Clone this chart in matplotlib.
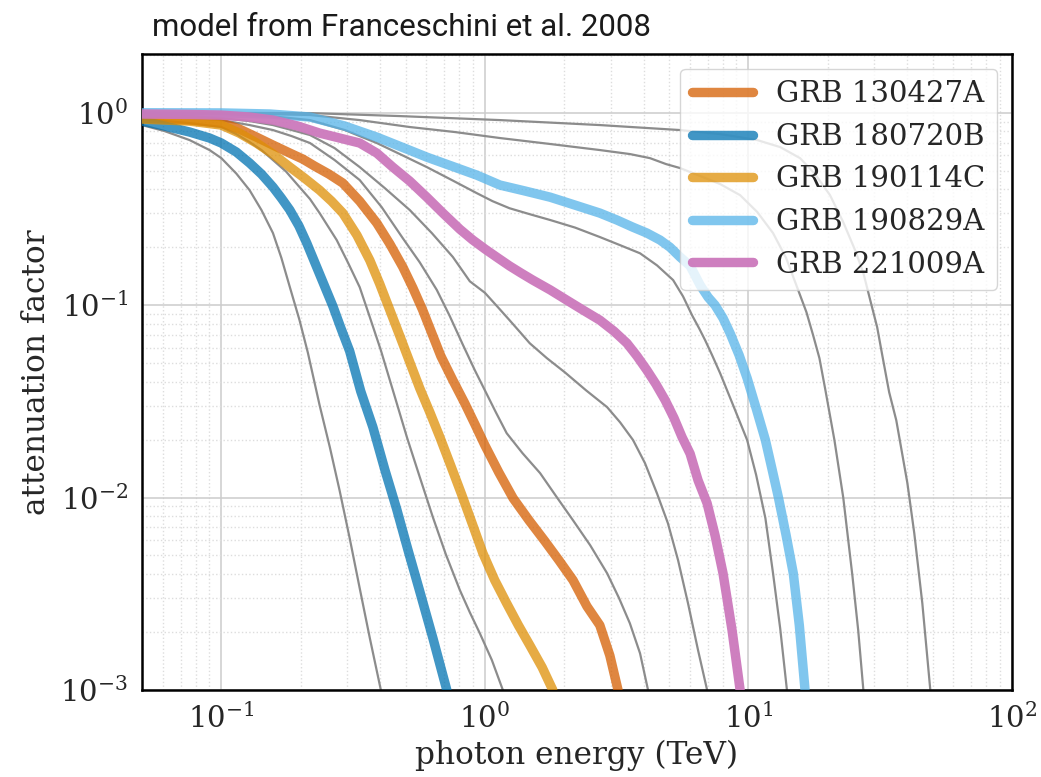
import numpy as np
import matplotlib
matplotlib.use("Agg")
import matplotlib.pyplot as plt

plt.rcParams.update({
    "font.family": "DejaVu Serif",
    "mathtext.fontset": "dejavuserif",
    "text.color": "#262626",
    "axes.labelcolor": "#262626",
    "xtick.color": "#262626",
    "ytick.color": "#262626",
})

# ---- GRB curves (photon energy in TeV, attenuation factor)
GRB_NAMES = ["GRB 130427A", "GRB 180720B", "GRB 190114C", "GRB 190829A", "GRB 221009A"]
GRB_COLORS = ["#D55E00", "#0173B2", "#DE8F05", "#56B4E9", "#CC78BC"]
GRB_ALPHA = [0.75, 0.75, 0.75, 0.75, 0.95]

e_130427A = [0.05, 0.0758, 0.100, 0.117, 0.136, 0.157, 0.182, 0.204, 0.226, 0.256,
             0.289, 0.335, 0.389, 0.436, 0.488, 0.533, 0.581, 0.629, 0.681, 0.756,
             0.839, 0.916, 1.0, 1.13, 1.28, 1.47, 1.69, 1.91, 2.16, 2.44, 2.73, 2.98, 3.20]
a_130427A = [0.938, 0.916, 0.884, 0.823, 0.747, 0.679, 0.617, 0.574, 0.528, 0.480,
             0.431, 0.347, 0.267, 0.208, 0.158, 0.123, 0.0942, 0.0715, 0.0543, 0.0407,
             0.0309, 0.0241, 0.0187, 0.0135, 0.00992, 0.00762, 0.00593, 0.00472,
             0.00372, 0.00272, 0.00217, 0.00151, 0.001]

e_180720B = [0.05, 0.0609, 0.0758, 0.0902, 0.100, 0.114, 0.128, 0.142, 0.157, 0.169,
             0.182, 0.197, 0.211, 0.236, 0.265, 0.284, 0.307, 0.338, 0.376, 0.417,
             0.463, 0.510, 0.566, 0.635, 0.717]
a_180720B = [0.905, 0.853, 0.794, 0.739, 0.696, 0.625, 0.548, 0.480, 0.411, 0.360,
             0.312, 0.258, 0.210, 0.145, 0.0988, 0.0762, 0.0576, 0.0357, 0.0232, 0.0140,
             0.00869, 0.00538, 0.00326, 0.00186, 0.001]

e_190114C = [0.05, 0.0758, 0.100, 0.117, 0.136, 0.157, 0.182, 0.207, 0.236, 0.262,
             0.289, 0.327, 0.366, 0.399, 0.436, 0.476, 0.519, 0.566, 0.618, 0.675,
             0.743, 0.818, 0.900, 0.983, 1.09, 1.21, 1.34, 1.48, 1.65, 1.81]
a_190114C = [0.927, 0.905, 0.863, 0.784, 0.696, 0.610, 0.522, 0.457, 0.396, 0.347,
             0.301, 0.231, 0.171, 0.129, 0.0942, 0.0690, 0.0505, 0.0370, 0.0278, 0.0206,
             0.0146, 0.0103, 0.00718, 0.00513, 0.00372, 0.00282, 0.00217, 0.00171,
             0.00131, 0.001]

e_190829A = [0.05, 0.100, 0.153, 0.217, 0.294, 0.389, 0.484, 0.602, 0.749, 0.932,
             1.14, 1.42, 1.77, 2.20, 2.73, 3.17, 3.65, 4.12, 4.62, 5.04, 5.50, 6.01,
             6.56, 7.03, 7.47, 8.01, 8.52, 9.22, 9.89, 10.7, 11.6, 12.3, 13.0, 13.9,
             14.8, 15.6, 16.4]
a_190829A = [1.0, 0.998, 0.985, 0.950, 0.853, 0.747, 0.663, 0.588, 0.528, 0.474,
             0.421, 0.392, 0.364, 0.331, 0.301, 0.277, 0.254, 0.237, 0.218, 0.200, 0.178,
             0.160, 0.127, 0.110, 0.100, 0.0856, 0.0715, 0.0550, 0.0417, 0.0291, 0.0199,
             0.0140, 0.0100, 0.00637, 0.00404, 0.00217, 0.001]

e_221009A = [0.05, 0.0758, 0.100, 0.128, 0.157, 0.195, 0.236, 0.281, 0.335, 0.389,
             0.447, 0.519, 0.602, 0.693, 0.804, 0.900, 1.0, 1.12, 1.24, 1.37, 1.52,
             1.77, 2.05, 2.36, 2.73, 3.09, 3.46, 3.78, 4.12, 4.46, 4.83, 5.22, 5.60,
             6.01, 6.44, 6.97, 7.47, 8.01, 8.67, 9.30]
a_221009A = [0.985, 0.980, 0.972, 0.950, 0.916, 0.853, 0.784, 0.739, 0.696, 0.617,
             0.522, 0.441, 0.364, 0.301, 0.248, 0.218, 0.196, 0.176, 0.160, 0.147,
             0.135, 0.120, 0.106, 0.0942, 0.0836, 0.0732, 0.0634, 0.0543, 0.0459,
             0.0388, 0.0321, 0.0259, 0.0206, 0.0169, 0.0123, 0.00934, 0.00637, 0.00404,
             0.00204, 0.001]

GRB_E = [e_130427A, e_180720B, e_190114C, e_190829A, e_221009A]
GRB_A = [a_130427A, a_180720B, a_190114C, a_190829A, a_221009A]

# ---- reference redshift curves (thin grey)
e_g1 = [0.05, 0.0609, 0.0758, 0.0902, 0.100, 0.114, 0.128, 0.142, 0.157, 0.169,
        0.182, 0.198, 0.213, 0.236, 0.258, 0.281, 0.307, 0.335, 0.366, 0.403]
a_g1 = [0.863, 0.803, 0.721, 0.640, 0.581, 0.483, 0.396, 0.312, 0.237, 0.176,
        0.124, 0.0836, 0.0566, 0.0302, 0.0183, 0.0109, 0.00614, 0.00338, 0.00186, 0.001]

e_g2 = [0.05, 0.0758, 0.100, 0.114, 0.128, 0.142, 0.157, 0.176, 0.195, 0.217, 0.236,
        0.274, 0.302, 0.335, 0.366, 0.403, 0.451, 0.506, 0.566, 0.635, 0.711, 0.804,
        0.877, 0.957, 1.063, 1.17]
a_g2 = [0.927, 0.884, 0.843, 0.775, 0.704, 0.640, 0.568, 0.495, 0.421, 0.356, 0.301,
        0.218, 0.167, 0.124, 0.0866, 0.0583, 0.0349, 0.0206, 0.0128, 0.0079, 0.00507,
        0.00330, 0.00253, 0.00197, 0.00143, 0.001]

e_g3 = [0.05, 0.0758, 0.100, 0.128, 0.157, 0.185, 0.217, 0.269, 0.335, 0.406, 0.488,
        0.566, 0.657, 0.736, 0.825, 0.916, 1.0, 1.10, 1.21, 1.39, 1.62, 1.86, 2.16,
        2.51, 2.91, 3.23, 3.55, 3.88, 4.16]
a_g3 = [0.961, 0.938, 0.916, 0.863, 0.813, 0.756, 0.696, 0.568, 0.447, 0.323, 0.223,
        0.167, 0.120, 0.0877, 0.0623, 0.0459, 0.0361, 0.0278, 0.0216, 0.0170, 0.0134,
        0.0102, 0.00762, 0.00565, 0.00404, 0.00300, 0.00222, 0.00155, 0.001]

e_g4 = [0.05, 0.0758, 0.100, 0.128, 0.157, 0.185, 0.217, 0.269, 0.335, 0.417, 0.519,
        0.629, 0.756, 0.877, 1.0, 1.12, 1.24, 1.36, 1.48, 1.72, 2.01, 2.42, 2.91, 3.26,
        3.65, 4.05, 4.50, 4.95, 5.41, 5.90, 6.44, 6.97]
a_g4 = [0.973, 0.961, 0.938, 0.905, 0.863, 0.813, 0.766, 0.655, 0.522, 0.406, 0.312,
        0.237, 0.178, 0.133, 0.116, 0.0977, 0.0836, 0.0724, 0.0634, 0.0530, 0.0448,
        0.0361, 0.0295, 0.0246, 0.0199, 0.0151, 0.0105, 0.00735, 0.00472, 0.00282,
        0.00161, 0.001]

e_g5 = [0.05, 0.100, 0.153, 0.217, 0.294, 0.389, 0.484, 0.602, 0.749, 0.932, 1.07,
        1.24, 1.48, 1.77, 2.20, 2.73, 3.26, 3.88, 4.50, 5.18, 5.65, 6.11, 6.50, 6.85,
        7.28, 7.81, 8.75, 9.89, 10.7, 11.6, 12.4, 13.2, 14.0]
a_g5 = [0.99, 0.985, 0.961, 0.916, 0.813, 0.696, 0.603, 0.522, 0.447, 0.382, 0.347,
        0.319, 0.297, 0.277, 0.253, 0.226, 0.205, 0.186, 0.161, 0.135, 0.111, 0.0887,
        0.0758, 0.0658, 0.0550, 0.0443, 0.0302, 0.0199, 0.0131, 0.00781, 0.00404,
        0.00209, 0.001]

e_g6 = [0.05, 0.100, 0.217, 0.335, 0.519, 0.769, 1.14, 1.77, 2.73, 3.55, 4.23, 4.87,
        5.50, 6.56, 7.81, 9.30, 10.8, 12.4, 13.9, 15.3, 16.6, 17.6, 18.6, 19.6, 21.2,
        22.9, 24.8, 26.1, 27.3]
a_g6 = [1.0, 0.996, 0.973, 0.916, 0.843, 0.794, 0.739, 0.688, 0.640, 0.610, 0.581,
        0.541, 0.516, 0.469, 0.426, 0.373, 0.305, 0.237, 0.176, 0.124, 0.0920, 0.0698,
        0.0530, 0.0361, 0.0199, 0.0100, 0.00394, 0.00204, 0.001]

e_g7 = [0.05, 0.217, 0.476, 1.14, 2.73, 5.50, 7.81, 10.8, 13.2, 15.7, 17.9, 20.4,
        22.9, 25.4, 27.3, 29.0, 30.8, 32.2, 34.2, 36.4, 40.1, 42.6, 45.7, 49.0]
a_g7 = [1.0, 0.996, 0.961, 0.916, 0.863, 0.813, 0.775, 0.721, 0.663, 0.581, 0.480,
        0.373, 0.270, 0.193, 0.147, 0.106, 0.0768, 0.0550, 0.0353, 0.0252, 0.0119,
        0.00652, 0.00282, 0.001]

GREY_E = [e_g1, e_g2, e_g3, e_g4, e_g5, e_g6, e_g7]
GREY_A = [a_g1, a_g2, a_g3, a_g4, a_g5, a_g6, a_g7]

fig = plt.figure(figsize=(10.41, 7.77), dpi=100)
ax = fig.add_axes([0.1364, 0.112, 0.8357, 0.8185])

for e, a in zip(GREY_E, GREY_A):
    ax.plot(e, a, color="0.55", lw=1.6, zorder=2, solid_joinstyle="round")

for name, color, alpha, e, a in zip(GRB_NAMES, GRB_COLORS, GRB_ALPHA, GRB_E, GRB_A):
    ax.plot(e, a, color=color, lw=6.8, alpha=alpha, solid_capstyle="round",
            solid_joinstyle="round", label=name, zorder=3)

ax.set_xscale("log")
ax.set_yscale("log")
ax.set_xlim(0.05, 100)
ax.set_ylim(1e-3, 2.02)

ax.grid(which="major", color="#cccccc", lw=1.1, ls="-", zorder=0)
ax.grid(which="minor", color="#dddddd", lw=1.0, ls=":", zorder=0)
ax.tick_params(which="both", length=0, labelsize=21, pad=10)
for sp in ax.spines.values():
    sp.set_color("black")
    sp.set_linewidth(1.8)

ax.set_xlabel("photon energy (TeV)", fontsize=22.5, labelpad=4)
ax.set_ylabel("attenuation factor", fontsize=22.5, labelpad=6)

leg = ax.legend(loc="upper right", fontsize=21, handlelength=2.1,
                labelspacing=0.5, framealpha=0.8, edgecolor="#cccccc",
                fancybox=True)
leg.get_frame().set_linewidth(1.0)

fig.text(152 / 1041, 1 - 36 / 777, "model from Franceschini et al. 2008",
         family="Roboto", fontsize=22.5, color="#1a1a1a",
         va="baseline", ha="left")

fig.savefig("out.png", dpi=100)
